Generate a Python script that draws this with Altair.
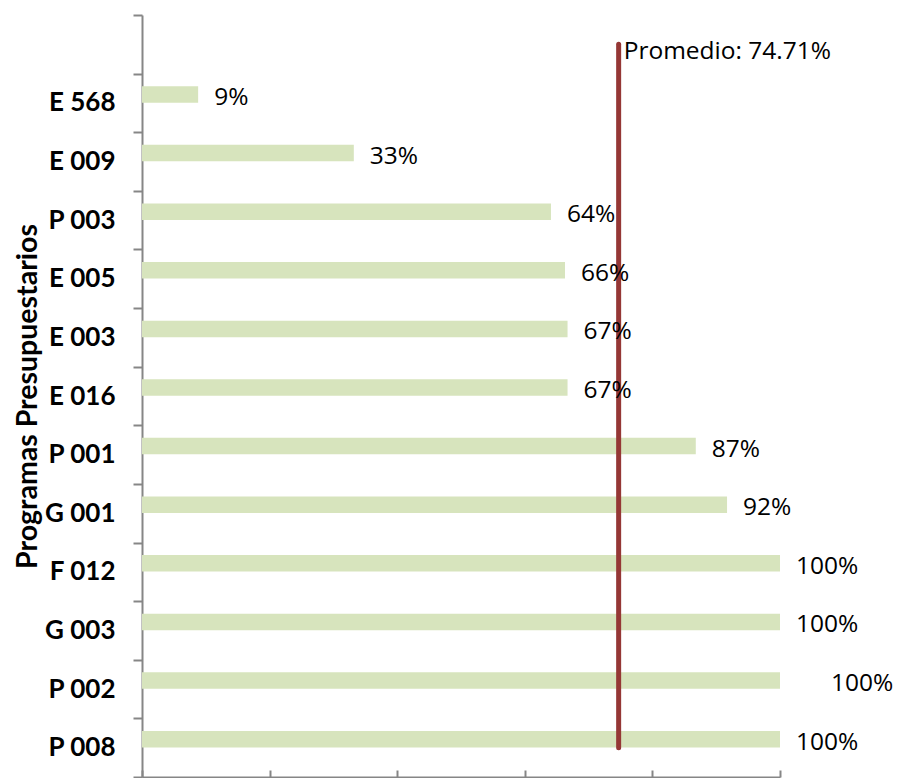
import altair as alt
import pandas as pd

programas = ["E 568", "E 009", "P 003", "E 005", "E 003", "E 016",
             "P 001", "G 001", "F 012", "G 003", "P 002", "P 008"]
cumplimiento = [0.088, 0.332, 0.641, 0.663, 0.667, 0.667,
                0.868, 0.917, 1.0, 1.0, 1.0, 1.0]
promedio = 0.7471
orden_y = [" "] + programas
marcas_x = [0, 0.2, 0.4, 0.6, 0.8, 1.0]

df = pd.DataFrame({"programa": programas, "valor": cumplimiento})
df_prom = pd.DataFrame({"promedio": [promedio], "desde": [orden_y[0]], "hasta": [programas[-1]]})

AXIS_GREY = "#868686"
LABEL_FONT = "Open Sans"
LABEL_SIZE = 24.5

y_enc = alt.Y(
    "programa:N",
    sort=orden_y,
    scale=alt.Scale(domain=orden_y, paddingInner=0, paddingOuter=0),
    axis=alt.Axis(
        title="Programas Presupuestarios",
        tickBand="extent",
        labelFont="Lato", labelFontWeight="bold", labelFontSize=26, labelColor="#000000",
        titleFont="Lato", titleFontWeight="bold", titleFontSize=28.5, titleColor="#000000",
        titlePadding=2,
        domainColor=AXIS_GREY, domainWidth=2,
        tickColor=AXIS_GREY, tickWidth=2, tickSize=9,
        labelPadding=18,
    ),
)

x_enc = alt.X(
    "valor:Q",
    scale=alt.Scale(domain=[0, 1], nice=False),
    axis=alt.Axis(
        orient="top", offset=-762, labels=False, title=None, grid=False,
        values=marcas_x, tickSize=7, tickColor=AXIS_GREY, tickWidth=2,
        domainColor=AXIS_GREY, domainWidth=2,
    ),
)

base = alt.Chart(df)

bars = base.mark_bar(color="#d7e4bd", size=16.5, yOffset=-8.5).encode(x=x_enc, y=y_enc)

labels = base.transform_filter(alt.datum.programa != "P 002").mark_text(
    align="left", baseline="middle", dx=16, yOffset=-5,
    font=LABEL_FONT, fontSize=LABEL_SIZE, color="#000000",
).encode(x="valor:Q", y="programa:N", text=alt.Text("valor:Q", format=".0%"))

labels_p002 = base.transform_filter(alt.datum.programa == "P 002").mark_text(
    align="left", baseline="middle", dx=51, yOffset=-5,
    font=LABEL_FONT, fontSize=LABEL_SIZE, color="#000000",
).encode(x="valor:Q", y="programa:N", text=alt.Text("valor:Q", format=".0%"))

linea = alt.Chart(df_prom).mark_rule(color="#953735", strokeWidth=5, strokeCap="round").encode(
    x=alt.X("promedio:Q"),
    y=alt.Y("desde:N", bandPosition=0.5),
    y2=alt.Y2("hasta:N", bandPosition=0.5),
)

texto_prom = alt.Chart(df_prom).transform_calculate(
    texto="'Promedio: ' + format(datum.promedio, '.2%')"
).mark_text(
    align="left", baseline="middle", dx=5, dy=8,
    font=LABEL_FONT, fontSize=LABEL_SIZE, color="#000000",
).encode(x="promedio:Q", y=alt.Y("desde:N"), text="texto:N")

chart = alt.layer(bars, linea, labels, labels_p002, texto_prom).properties(
    width=638, height=762,
    autosize=alt.AutoSizeParams(type="none"),
    padding={"left": 134, "top": 7, "right": 113, "bottom": 1},
).configure_view(stroke=None)

chart.save("out.html", embed_options={"renderer": "svg", "actions": False})
